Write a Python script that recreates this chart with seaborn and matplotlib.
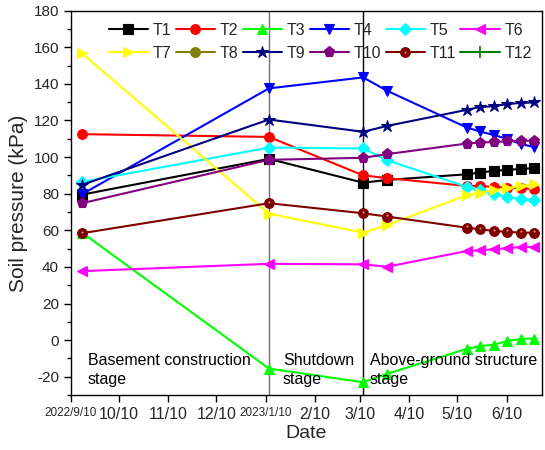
import numpy as np
import pandas as pd
import matplotlib
matplotlib.use("Agg")
import matplotlib.pyplot as plt
from matplotlib.lines import Line2D
from matplotlib.legend_handler import HandlerTuple
import seaborn as sns

# Monitoring dates
dates = ["2022-09-17", "2023-01-12", "2023-03-12", "2023-03-27", "2023-05-16",
         "2023-05-24", "2023-06-02", "2023-06-10", "2023-06-19", "2023-06-27"]

# Soil pressure readings (kPa) per sensor
T1 = [79.5, 99.0, 86.0, 87.5, 90.6, 91.5, 92.5, 93.0, 93.5, 94.0]
T2 = [112.5, 111.0, 90.0, 88.5, 84.2, 84.2, 83.7, 83.3, 83.0, 82.4]
T3 = [58.7, -15.5, -23.0, -18.4, -4.7, -3.3, -2.4, -0.5, 0.7, 0.9]
T4 = [79.7, 137.5, 143.5, 136.2, 116.1, 114.0, 112.0, 110.0, 107.0, 105.6]
T5 = [86.4, 105.2, 104.7, 98.3, 83.7, 81.9, 79.7, 78.2, 77.0, 76.6]
T6 = [37.7, 41.7, 41.4, 40.1, 48.7, 49.1, 49.6, 50.2, 50.9, 50.9]
T7 = [156.6, 69.1, 58.7, 62.9, 79.2, 80.6, 81.9, 83.0, 84.2, 85.2]
T8 = [np.nan] * 10   # sensor T8: no valid readings
T9 = [84.8, 120.5, 113.8, 117.0, 125.8, 127.3, 127.8, 128.9, 129.6, 129.8]
T10 = [74.8, 98.5, 99.6, 101.6, 107.4, 107.8, 108.3, 108.5, 108.9, 108.9]
T11 = [58.4, 74.8, 69.3, 67.5, 61.4, 60.6, 59.6, 59.2, 58.7, 58.7]
T12 = [np.nan] * 10  # sensor T12: no valid readings

series_names = ["T1", "T2", "T3", "T4", "T5", "T6",
                "T7", "T8", "T9", "T10", "T11", "T12"]
series_values = [T1, T2, T3, T4, T5, T6, T7, T8, T9, T10, T11, T12]

tick_dates = ["2022-09-10", "2022-10-10", "2022-11-10", "2022-12-10", "2023-01-10",
              "2023-02-10", "2023-03-10", "2023-04-10", "2023-05-10", "2023-06-10"]
tick_labels = ["2022/9/10", "10/10", "11/10", "12/10", "2023/1/10",
               "2/10", "3/10", "4/10", "5/10", "6/10"]

stage_bounds = ["2023-01-12", "2023-03-12"]
stage_labels = ["Basement construction\nstage", "Shutdown\nstage",
                "Above-ground structure\nstage"]

colors = ["black", "red", "#00ff00", "blue", "cyan", "magenta",
          "yellow", "#808000", "#000080", "#800080", "#800000", "#008000"]
markers = ["s", "o", "^", "v", "D", "<", ">", "o", "*", "p", "o", "+"]
msizes = [6.5, 7, 7.5, 7.5, 6.5, 7.5, 7.5, 7, 9, 8, 7, 8]

sns.set_style("ticks")
plt.rcParams["font.family"] = ["Liberation Sans", "DejaVu Sans"]
plt.rcParams["axes.linewidth"] = 1.0
plt.rcParams["axes.unicode_minus"] = False

fig = plt.figure(figsize=(5.45, 4.5), dpi=100)
ax = fig.add_axes([0.130, 0.122, 0.8645, 0.8545])

x = pd.to_datetime(dates)
handles = {}
for name, vals, c, m, ms in zip(series_names, series_values, colors, markers, msizes):
    v = np.asarray(vals, dtype=float)
    if np.isfinite(v).any():
        sns.lineplot(x=x, y=v, ax=ax, color=c, marker=m, markersize=ms,
                     linewidth=1.5, markeredgecolor=c, markeredgewidth=0.8,
                     legend=False, zorder=3)
    h = Line2D([], [], color=c, marker=m, markersize=ms, linewidth=1.5,
               markeredgecolor=c, markeredgewidth=1.2 if m == "+" else 0.8)
    handles[name] = h

# glossy highlight on the T11 markers
v11 = np.asarray(T11, dtype=float)
ax.plot(x, v11 + 0.8, linestyle="none", marker="o", markersize=1.5,
        color="#c89898", markeredgewidth=0, zorder=4)
handles["T11"] = (handles["T11"],
                  Line2D([], [], linestyle="none", marker="o", markersize=1.5,
                         color="#c89898", markeredgewidth=0))

# stage boundaries
ax.axvline(pd.Timestamp(stage_bounds[0]), color="#707070", linewidth=1.0, zorder=2)
ax.axvline(pd.Timestamp(stage_bounds[1]), color="black", linewidth=1.0, zorder=2)

for xf, txt in zip([0.036, 0.450, 0.635], stage_labels):
    ax.text(xf, 0.110, txt, transform=ax.transAxes, ha="left", va="top",
            fontsize=11.5, linespacing=1.35, color="black")

ax.set_xlim(pd.Timestamp("2022-09-10"), pd.Timestamp("2023-07-02"))
ax.set_ylim(-30, 180)
ax.set_xticks(pd.to_datetime(tick_dates))
ax.set_xticklabels(tick_labels)
for lbl in ax.get_xticklabels():
    lbl.set_fontsize(8.5 if lbl.get_text().startswith("20") else 11.5)
ax.set_yticks(np.arange(-20, 181, 20))
ax.set_yticks(np.arange(-30, 181, 10), minor=True)
ax.tick_params(axis="y", labelsize=11)
ax.tick_params(which="major", direction="out", length=5, width=1.0, color="black")
ax.tick_params(which="minor", direction="out", length=3, width=1.0, color="black")
ax.tick_params(axis="x", which="minor", bottom=False)
for s in ax.spines.values():
    s.set_visible(True)
    s.set_color("black")

ax.set_xlabel("Date", fontsize=14, labelpad=2)
ax.set_ylabel("Soil pressure (kPa)", fontsize=15, labelpad=4)

# legend: two rows of six, row-major order
order = ["T1", "T7", "T2", "T8", "T3", "T9", "T4", "T10", "T5", "T11", "T6", "T12"]
ax.legend([handles[n] for n in order], order, ncol=6, loc="upper left",
          bbox_to_anchor=(0.080, 0.968), frameon=False, fontsize=11.5,
          handlelength=2.45, handletextpad=0.3, columnspacing=0.28,
          borderpad=0.0, labelspacing=0.5, borderaxespad=0,
          handler_map={tuple: HandlerTuple(ndivide=1)})

fig.savefig("out.png", dpi=100)
